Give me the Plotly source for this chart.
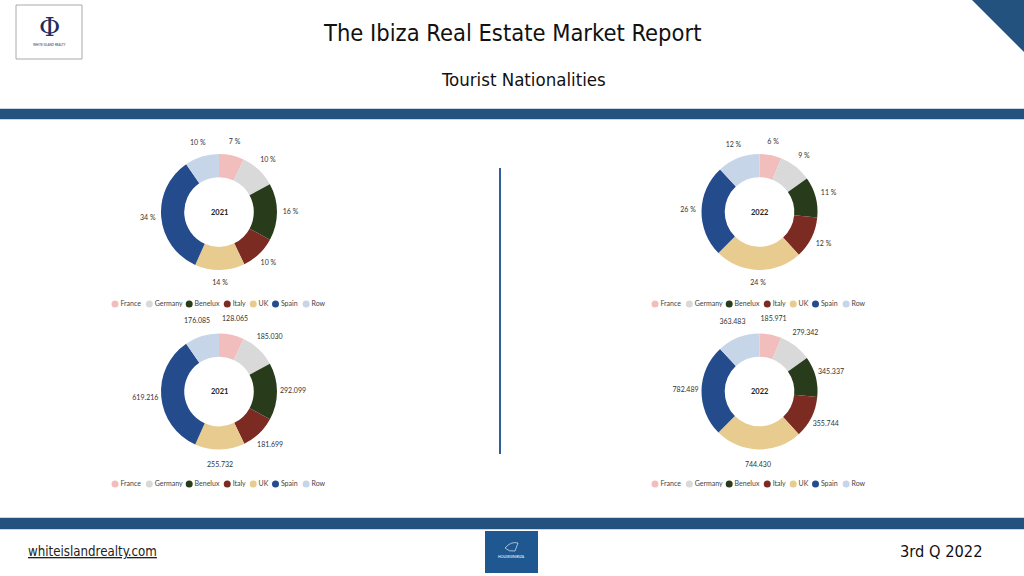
import plotly.graph_objects as go

# ---------------- data ----------------
categories = ["France", "Germany", "Benelux", "Italy", "UK", "Spain", "Row"]
colors = ["#F2BDBD", "#D9D9D9", "#283C1C", "#7C2B23", "#E7CB8F", "#244B8C", "#C6D5E7"]
visitors_2021 = [128065, 185030, 292099, 181699, 255732, 619216, 176085]
visitors_2022 = [185971, 279342, 345337, 355744, 744430, 782489, 363483]
years = ["2021", "2022"]

W, H = 1024, 576
BODY = "Lato, 'Noto Sans', sans-serif"
TITLE = "'DejaVu Sans Condensed', 'Roboto', sans-serif"
BLUE = "#23527F"


def dom(cx, cy, r):
    return dict(x=[(cx - r) / W, (cx + r) / W], y=[1 - (cy + r) / H, 1 - (cy - r) / H])


def pct(vals):
    s = float(sum(vals))
    return [round(v / s * 100) for v in vals]


def mid_angles(vals):
    s = float(sum(vals))
    out, acc = [], 0.0
    for v in vals:
        out.append((acc + v / 2.0) / s * 360.0)
        acc += v
    return out


fig = go.Figure()

# overlay pixel axis for legends / decorations
fig.update_layout(
    xaxis=dict(range=[0, W], visible=False, fixedrange=True, domain=[0, 1]),
    yaxis=dict(range=[H, 0], visible=False, fixedrange=True, domain=[0, 1]),
)

R = 58  # donut outer radius (px)
charts = [
    # (values, year, cx, cy, mode, label radius)
    (visitors_2021, years[0], 219, 212, "pct", 71.5),
    (visitors_2022, years[1], 759.5, 212, "pct", 71.5),
    (visitors_2021, years[0], 219, 391.5, "val", 74),
    (visitors_2022, years[1], 759.5, 391.5, "val", 74),
]

annotations = []
polar_layout = {}
for i, (vals, yr, cx, cy, mode, rlab) in enumerate(charts):
    # visible donut
    fig.add_trace(go.Pie(
        labels=categories, values=vals, textinfo="none",
        marker=dict(colors=colors, line=dict(width=0)),
        hole=0.6, sort=False, direction="clockwise", rotation=0,
        domain=dom(cx, cy, R), showlegend=False, hoverinfo="label+value+percent",
    ))
    # data labels placed around the ring on a polar subplot
    if mode == "pct":
        txt = [f"{p} %" for p in pct(vals)]
    else:
        txt = [f"{v:,}".replace(",", ".") for v in vals]
    pname = "polar" if i == 0 else f"polar{i + 1}"
    fig.add_trace(go.Scatterpolar(
        r=[1] * len(vals), theta=mid_angles(vals), mode="text", text=txt,
        textfont=dict(family=BODY, size=7, color="#333333"),
        subplot=pname, showlegend=False, hoverinfo="skip", cliponaxis=False,
    ))
    polar_layout[pname] = dict(
        domain=dom(cx, cy, rlab), bgcolor="rgba(0,0,0,0)",
        radialaxis=dict(range=[0, 1], visible=False),
        angularaxis=dict(rotation=90, direction="clockwise", visible=False),
        hole=0,
    )
    annotations.append(dict(x=cx, y=cy, xref="x", yref="y", text="<b>" + yr + "</b>",
                            showarrow=False, font=dict(family=BODY, size=7.5, color="#222")))


# custom compact legends (approximate text widths for Lato 7px)
def text_w(s):
    w = 0.0
    for ch in s:
        if ch in "iltfrjI":
            w += 1.75
        elif ch in "mw":
            w += 5.5
        elif ch.isupper():
            w += 4.5
        else:
            w += 3.7
    return w


def legend_xs(x0):
    xs, x = [], x0
    for c in categories:
        xs.append(x)
        x += text_w(c) + 13.3
    return xs


for lx, ly in [(115, 304), (655, 304), (115, 484), (655, 484)]:
    fig.add_trace(go.Scatter(
        x=legend_xs(lx), y=[ly] * len(categories), mode="markers+text",
        text=categories, textposition="middle right",
        textfont=dict(family=BODY, size=7, color="#444"),
        marker=dict(color=colors, size=7, symbol="circle"),
        showlegend=False, hoverinfo="skip", cliponaxis=False,
    ))

# header / footer text
annotations += [
    dict(x=512, y=33, xref="x", yref="y", text="The Ibiza Real Estate Market Report", showarrow=False,
         font=dict(family=TITLE, size=23.5, color="#111")),
    dict(x=523.5, y=79, xref="x", yref="y", text="Tourist Nationalities", showarrow=False,
         font=dict(family=TITLE, size=18.5, color="#111")),
    dict(x=26, y=551, xref="x", yref="y", text="<u>whiteislandrealty.com</u>", showarrow=False,
         xanchor="left", font=dict(family=TITLE, size=13.2, color="#222")),
    dict(x=984, y=551, xref="x", yref="y", text="3rd Q 2022", showarrow=False,
         xanchor="right", font=dict(family=TITLE, size=16.3, color="#111")),
    dict(x=49.5, y=27, xref="x", yref="y", text="Φ", showarrow=False,
         font=dict(family="'DejaVu Serif', serif", size=26, color="#1E2C5E")),
    dict(x=49.5, y=45, xref="x", yref="y", text="WHITE ISLAND REALTY", showarrow=False,
         font=dict(family=BODY, size=3, color="#1E2C5E")),
    dict(x=511.5, y=557, xref="x", yref="y", text="HOUSESINIBIZA", showarrow=False,
         font=dict(family=BODY, size=3.5, color="#FFFFFF")),
]

shapes = [
    # logo box
    dict(type="rect", xref="x", yref="y", x0=16, x1=82, y0=5, y1=59,
         line=dict(color="#AAAAAA", width=1), fillcolor="white", layer="below"),
    # top right triangle
    dict(type="path", xref="x", yref="y", path="M 972 0 L 1024 0 L 1024 52 Z",
         fillcolor=BLUE, line=dict(width=0)),
    # header band (with thin light edges)
    dict(type="rect", xref="x", yref="y", x0=0, x1=W, y0=108, y1=120,
         fillcolor="#C9D6E4", line=dict(width=0), layer="below"),
    dict(type="rect", xref="x", yref="y", x0=0, x1=W, y0=109, y1=119,
         fillcolor=BLUE, line=dict(width=0), layer="below"),
    # footer band
    dict(type="rect", xref="x", yref="y", x0=0, x1=W, y0=517, y1=530,
         fillcolor="#C9D6E4", line=dict(width=0), layer="below"),
    dict(type="rect", xref="x", yref="y", x0=0, x1=W, y0=518, y1=529,
         fillcolor=BLUE, line=dict(width=0), layer="below"),
    # divider
    dict(type="line", xref="x", yref="y", x0=500, x1=500, y0=168, y1=454,
         line=dict(color="#2E5F96", width=2)),
    # footer logo
    dict(type="rect", xref="x", yref="y", x0=485, x1=538, y0=531, y1=573,
         fillcolor="#1F5890", line=dict(width=0)),
    dict(type="path", xref="x", yref="y", path="M 505 548 Q 511 541 518 543 L 515 551 Q 509 552 505 548 Z",
         fillcolor="rgba(0,0,0,0)", line=dict(color="white", width=0.6)),
]

fig.update_layout(
    width=W, height=H, margin=dict(l=0, r=0, t=0, b=0),
    paper_bgcolor="white", plot_bgcolor="white",
    separators=",.", annotations=annotations, shapes=shapes,
    font=dict(family=BODY), **polar_layout,
)

fig.write_html("out.html", config={"displayModeBar": False},
               post_script="document.body.style.margin='0';document.body.style.overflow='hidden';")
